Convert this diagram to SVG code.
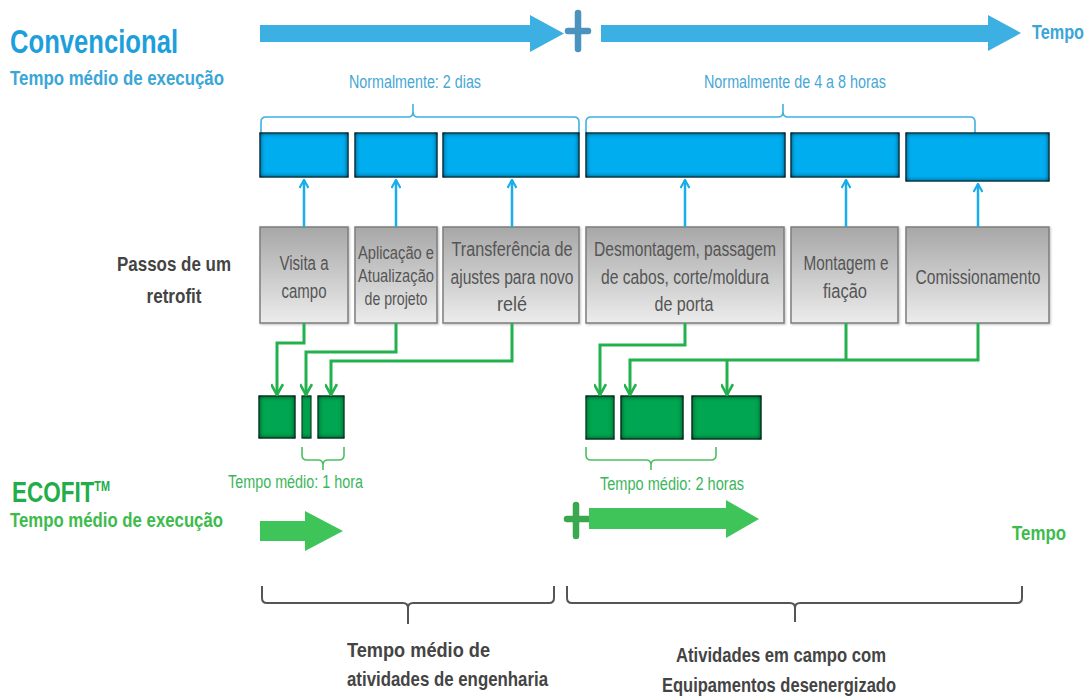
<svg xmlns="http://www.w3.org/2000/svg" width="1092" height="698" viewBox="0 0 1092 698">
<style>
text{font-family:"Liberation Sans",Arial,sans-serif}
.bold{font-weight:bold}
.blueT{fill:#1e9fdc}
.blueS{fill:#47a7d6;font-size:17.5px}
.greenS{fill:#3db65b;font-size:18px}
.greenT{fill:#22ad4a}
.step{fill:#555;font-size:19.5px;text-anchor:middle}
.dark{fill:#444;font-size:21px;font-weight:bold}
.bbox{fill:#00adef;stroke:#0b3a4c;stroke-width:1;filter:url(#inset)}
.gbox{fill:#00a651;stroke:#0b3a20;stroke-width:1;filter:url(#inset)}
.grey{fill:url(#gg);stroke:#7d7d7d;stroke-width:1.5;filter:url(#sh)}
.bconn{fill:none;stroke:#17aee9;stroke-width:2.5;marker-end:url(#ab)}
.gconn{fill:none;stroke:#22b14c;stroke-width:3;marker-end:url(#ag)}
.bbr{fill:none;stroke:#3fb0e2;stroke-width:1.6}
.gbr{fill:none;stroke:#4cc05e;stroke-width:1.6}
.kbr{fill:none;stroke:#555;stroke-width:2}
</style>
<defs>
<linearGradient id="gg" x1="0" y1="0" x2="0" y2="1">
<stop offset="0" stop-color="#a7a7a7"/>
<stop offset="1" stop-color="#ececec"/>
</linearGradient>
<filter id="inset" x="-10%" y="-10%" width="120%" height="120%">
<feFlood flood-color="#031c22" result="f"/>
<feComposite in="f" in2="SourceAlpha" operator="out" result="o"/>
<feGaussianBlur in="o" stdDeviation="2.5" result="b"/>
<feComposite in="b" in2="SourceAlpha" operator="in" result="s"/>
<feMerge><feMergeNode in="SourceGraphic"/><feMergeNode in="s"/><feMergeNode in="s"/></feMerge>
</filter>
<filter id="sh" x="-5%" y="-5%" width="112%" height="112%">
<feDropShadow dx="1" dy="1" stdDeviation="1" flood-color="#000" flood-opacity="0.25"/>
</filter>
<marker id="ab" viewBox="0 0 10 10" refX="9" refY="5" markerWidth="10" markerHeight="10" markerUnits="userSpaceOnUse" orient="auto">
<path d="M1,0.5 L9,5 L1,9.5" fill="none" stroke="#17aee9" stroke-width="2.2"/>
</marker>
<marker id="ag" viewBox="0 0 12 12" refX="11" refY="6" markerWidth="13" markerHeight="13" markerUnits="userSpaceOnUse" orient="auto">
<path d="M1,0.5 L11,6 L1,11.5" fill="none" stroke="#22b14c" stroke-width="2.4"/>
</marker>
</defs>

<g id="titles">
<text x="10" y="53" class="bold blueT" font-size="33" textLength="168" lengthAdjust="spacingAndGlyphs">Convencional</text>
<text x="10" y="85" class="bold" fill="#3aa6d8" font-size="21" textLength="214" lengthAdjust="spacingAndGlyphs">Tempo médio de execução</text>
<text x="1084" y="39" class="bold" fill="#3aa6d8" font-size="20" text-anchor="end" textLength="52" lengthAdjust="spacingAndGlyphs">Tempo</text>
<text x="12" y="502" class="bold greenT" font-size="29" textLength="98" lengthAdjust="spacingAndGlyphs">ECOFIT<tspan font-size="14" dy="-11">TM</tspan></text>
<text x="10" y="527" class="bold" fill="#3dbb4d" font-size="21" textLength="213" lengthAdjust="spacingAndGlyphs">Tempo médio de execução</text>
<text x="1066" y="540" class="bold" fill="#3dbb4d" font-size="21" text-anchor="end" textLength="54" lengthAdjust="spacingAndGlyphs">Tempo</text>
<text x="174" y="271" class="dark" text-anchor="middle" textLength="114" lengthAdjust="spacingAndGlyphs">Passos de um</text>
<text x="174" y="303" class="dark" text-anchor="middle" textLength="55" lengthAdjust="spacingAndGlyphs">retrofit</text>
</g>

<g id="timeline">
<polygon points="260,25 530,25 530,15 564,33.5 530,52 530,42 260,42" fill="#3db0e3"/>
<path d="M578,13 V49 M568,31 H588" stroke="#4a93bf" stroke-width="6.5" stroke-linecap="round"/>
<polygon points="601,25 988,25 988,15 1021,33 988,51 988,42 601,42" fill="#3db0e3"/>
<polygon points="260,521 305,521 305,511 343,531 305,551 305,541 260,541" fill="#3fc45a"/>
<path d="M576,505 V536 M567,519 H589" stroke="#3aa84e" stroke-width="6.5" stroke-linecap="round"/>
<polygon points="589,508 726,508 726,500 759,519 726,538 726,529 589,529" fill="#3fc45a"/>
</g>

<g id="brackets">
<path class="bbr" d="M261,133 V122 Q261,117 266,117 H408 Q413,117 413,112 V104 M413,112 Q413,117 418,117 H574 Q579,117 579,122 V133"/>
<text x="415" y="88" class="blueS" text-anchor="middle" textLength="132" lengthAdjust="spacingAndGlyphs">Normalmente: 2 dias</text>
<path class="bbr" d="M586,133 V122 Q586,117 591,117 H778 Q783,117 783,112 V104 M783,112 Q783,117 788,117 H970 Q975,117 975,122 V133"/>
<text x="795" y="88" class="blueS" text-anchor="middle" textLength="182" lengthAdjust="spacingAndGlyphs">Normalmente de 4 a 8 horas</text>
<path class="gbr" d="M302,447 V455 Q302,460 307,460 H318 Q323,460 323,465 V470 M323,465 Q323,460 328,460 H339 Q344,460 344,455 V447"/>
<text x="228" y="488" class="greenS" textLength="135" lengthAdjust="spacingAndGlyphs">Tempo médio: 1 hora</text>
<path class="gbr" d="M586,447 V455 Q586,460 591,460 H646 Q651,460 651,465 V470 M651,465 Q651,460 656,460 H711 Q716,460 716,455 V447"/>
<text x="600" y="490" class="greenS" textLength="144" lengthAdjust="spacingAndGlyphs">Tempo médio: 2 horas</text>
<path class="kbr" d="M262,586 V598 Q262,603 267,603 H403 Q408,603 408,608 V624 M408,608 Q408,603 413,603 H549 Q554,603 554,598 V586"/>
<path class="kbr" d="M567,586 V598 Q567,603 572,603 H790 Q795,603 795,608 V622 M795,608 Q795,603 800,603 H1017 Q1022,603 1022,598 V586"/>
<text x="347" y="657" class="dark" textLength="143" lengthAdjust="spacingAndGlyphs">Tempo médio de</text>
<text x="347" y="686" class="dark" textLength="201" lengthAdjust="spacingAndGlyphs">atividades de engenharia</text>
<text x="781" y="662" class="dark" text-anchor="middle" textLength="210" lengthAdjust="spacingAndGlyphs">Atividades em campo com</text>
<text x="779" y="692" class="dark" text-anchor="middle" textLength="234" lengthAdjust="spacingAndGlyphs">Equipamentos desenergizado</text>
</g>

<g id="blue-bars">
<rect id="b1" class="bbox" x="260" y="133" width="88" height="44"/>
<rect id="b2" class="bbox" x="355" y="133" width="82" height="44"/>
<rect id="b3" class="bbox" x="443" y="133" width="136" height="44"/>
<rect id="b4" class="bbox" x="586" y="133" width="199" height="44"/>
<rect id="b5" class="bbox" x="791" y="133" width="108" height="44"/>
<rect id="b6" class="bbox" x="906" y="133" width="143" height="48"/>
</g>

<g id="step1"><rect class="grey" x="260" y="227" width="88" height="96"/>
<text class="step" x="304" y="270" textLength="49" lengthAdjust="spacingAndGlyphs">Visita a</text>
<text class="step" x="304" y="298" textLength="45" lengthAdjust="spacingAndGlyphs">campo</text></g>
<g id="step2"><rect class="grey" x="355" y="227" width="82" height="96"/>
<text class="step" x="396" y="259" style="font-size:17.5px" textLength="76" lengthAdjust="spacingAndGlyphs">Aplicação e</text>
<text class="step" x="396" y="282" style="font-size:17.5px" textLength="76" lengthAdjust="spacingAndGlyphs">Atualização</text>
<text class="step" x="396" y="305" style="font-size:17.5px" textLength="63" lengthAdjust="spacingAndGlyphs">de projeto</text></g>
<g id="step3"><rect class="grey" x="443" y="227" width="136" height="96"/>
<text class="step" x="512" y="256" textLength="121" lengthAdjust="spacingAndGlyphs">Transferência de</text>
<text class="step" x="512" y="284" textLength="123" lengthAdjust="spacingAndGlyphs">ajustes para novo</text>
<text class="step" x="512" y="311" textLength="30" lengthAdjust="spacingAndGlyphs">relé</text></g>
<g id="step4"><rect class="grey" x="586" y="227" width="198" height="96"/>
<text class="step" x="685" y="256" textLength="182" lengthAdjust="spacingAndGlyphs">Desmontagem, passagem</text>
<text class="step" x="685" y="284" textLength="168" lengthAdjust="spacingAndGlyphs">de cabos, corte/moldura</text>
<text class="step" x="684" y="311" textLength="59" lengthAdjust="spacingAndGlyphs">de porta</text></g>
<g id="step5"><rect class="grey" x="791" y="227" width="107" height="96"/>
<text class="step" x="846" y="270" textLength="85" lengthAdjust="spacingAndGlyphs">Montagem e</text>
<text class="step" x="845" y="298" textLength="44" lengthAdjust="spacingAndGlyphs">fiação</text></g>
<g id="step6"><rect class="grey" x="906" y="227" width="143" height="96"/>
<text class="step" x="978" y="284" textLength="125" lengthAdjust="spacingAndGlyphs">Comissionamento</text></g>

<g id="green-bars">
<rect id="g1" class="gbox" x="259" y="396" width="36" height="42"/>
<rect id="g2" class="gbox" x="302" y="396" width="9" height="42"/>
<rect id="g3" class="gbox" x="318" y="396" width="26" height="42"/>
<rect id="g4" class="gbox" x="586" y="396" width="28" height="43"/>
<rect id="g5" class="gbox" x="621" y="396" width="62" height="43"/>
<rect id="g6" class="gbox" x="692" y="396" width="69" height="43"/>
</g>

<g id="connectors">
<line class="bconn" x1="304" y1="227" x2="304" y2="180"/>
<line class="bconn" x1="396" y1="227" x2="396" y2="180"/>
<line class="bconn" x1="512" y1="227" x2="512" y2="180"/>
<line class="bconn" x1="685" y1="227" x2="685" y2="180"/>
<line class="bconn" x1="846" y1="227" x2="846" y2="180"/>
<line class="bconn" x1="978" y1="227" x2="978" y2="184"/>
<path class="gconn" d="M304,323 V343 H277 V395"/>
<path class="gconn" d="M396,323 V352 H306 V395"/>
<path class="gconn" d="M512,323 V361 H331 V395"/>
<path class="gconn" d="M685,323 V345 H600 V395"/>
<path class="gconn" d="M978,323 V360 H630 V395"/>
<path fill="none" stroke="#22b14c" stroke-width="3" d="M846,323 V360"/>
<path class="gconn" d="M727,360 V395"/>
</g>
</svg>
